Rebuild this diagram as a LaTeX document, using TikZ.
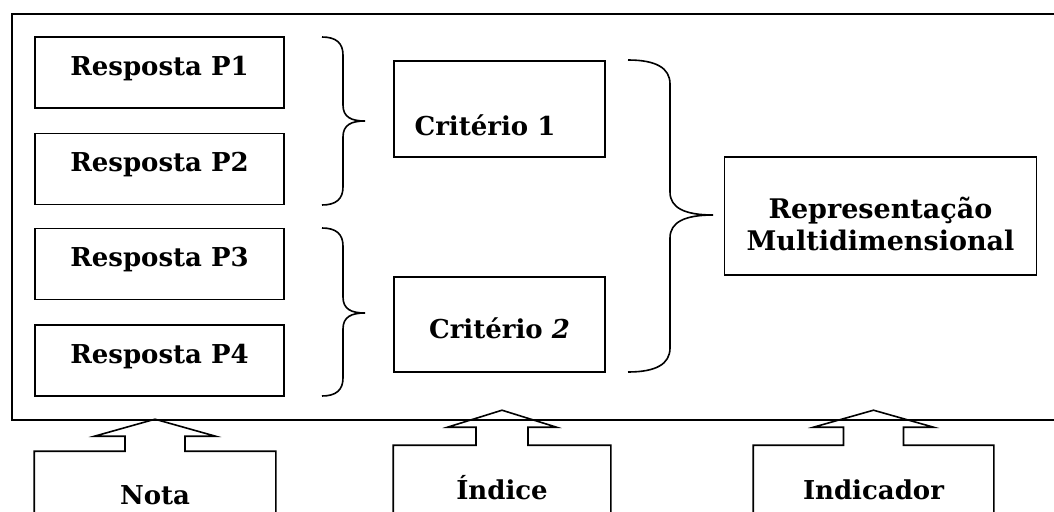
\documentclass[tikz,border=0pt]{standalone}
\usepackage{fontspec}
\setmainfont{DejaVu Serif}
\usetikzlibrary{calc}

\begin{document}
\begin{tikzpicture}[x=1pt, y=-1pt, line width=1.6pt,
    every node/.style={font=\bfseries\fontsize{26pt}{32pt}\selectfont},
    resp/.style={draw, minimum width=249pt, minimum height=71pt, text height=20pt, text depth=15pt},
    crit/.style={draw, minimum width=211pt, minimum height=96pt},
    srcbox/.style={minimum height=120pt, text height=20pt}]
    \useasboundingbox (0,0) rectangle (1054,511);
    \clip (0,0) rectangle (1054,511);

    % outer frame (runs off the right edge)
    \node[draw, anchor=north west, minimum width=1070pt, minimum height=406pt] (frame) at (11,13) {};

    % answers
    \node[resp] (p1) at (159.5,72.5) {Resposta P1};
    \node[resp] (p2) at (159.5,169) {Resposta P2};
    \node[resp] (p3) at (159.5,264) {Resposta P3};
    \node[resp] (p4) at (159.5,360.5) {Resposta P4};

    % criteria
    \node[crit, text height=56pt, text depth=4pt] (c1) at (499.5,109) {Critério 1\hspace*{29pt}};
    \node[crit, minimum height=95pt, text height=31pt, text depth=4pt] (c2) at (499.5,324.5) {Critério \textit{2}};

    \node[draw, minimum width=312pt, minimum height=118pt, align=center, text height=74pt, text depth=6pt,
        font=\bfseries\fontsize{27pt}{32pt}\selectfont] (rep) at (880.5,216) {Representação\\Multidimensional};

    % braces
    \draw (322,37) .. controls +(14,0) and +(0,-12) .. (343,55) -- (343,105)
        .. controls +(0,12) and +(-14,0) .. (365,121) .. controls +(-14,0) and +(0,-12) .. (343,137)
        -- (343,187) .. controls +(0,12) and +(14,0) .. (322,205);
    \draw (322,228) .. controls +(14,0) and +(0,-12) .. (343,246) -- (343,297)
        .. controls +(0,12) and +(-14,0) .. (365,313) .. controls +(-14,0) and +(0,-12) .. (343,329)
        -- (343,378) .. controls +(0,12) and +(14,0) .. (322,396);
    \draw (628,60) .. controls +(28,0) and +(0,-16) .. (670,84) -- (670,192)
        .. controls +(0,16) and +(-28,0) .. (713,215) .. controls +(-28,0) and +(0,-16) .. (670,238)
        -- (670,348) .. controls +(0,16) and +(28,0) .. (628,372);

    % sources below the frame
    \node[srcbox, minimum width=240pt, text depth=36pt] (nota) at (155,512) {Nota};
    \node[srcbox, minimum width=216pt, text depth=34pt] (indice) at (502,506) {Índice};
    \node[srcbox, minimum width=239pt, text depth=34pt] (indic) at (873.5,506) {Indicador};

    \draw (nota.south west) -- (nota.north west) -- ($(nota.north)+(-30,0)$) -- ++(0,-15) -- ++(-30.5,0)
        -- ($(nota.north)+(0,-32)$) -- ($(nota.north)+(60.5,-15)$) -- ++(-30.5,0) -- ++(0,15)
        -- (nota.north east) -- (nota.south east);
    \draw (indice.south west) -- (indice.north west) -- ($(indice.north)+(-26,0)$) -- ++(0,-18) -- ++(-28.5,0)
        -- ($(indice.north)+(0,-35)$) -- ($(indice.north)+(54.5,-18)$) -- ++(-28.5,0) -- ++(0,18)
        -- (indice.north east) -- (indice.south east);
    \draw (indic.south west) -- (indic.north west) -- ($(indic.north)+(-30,0)$) -- ++(0,-18) -- ++(-30,0)
        -- ($(indic.north)+(0,-35)$) -- ($(indic.north)+(60,-18)$) -- ++(-30,0) -- ++(0,18)
        -- (indic.north east) -- (indic.south east);
\end{tikzpicture}
\end{document}
